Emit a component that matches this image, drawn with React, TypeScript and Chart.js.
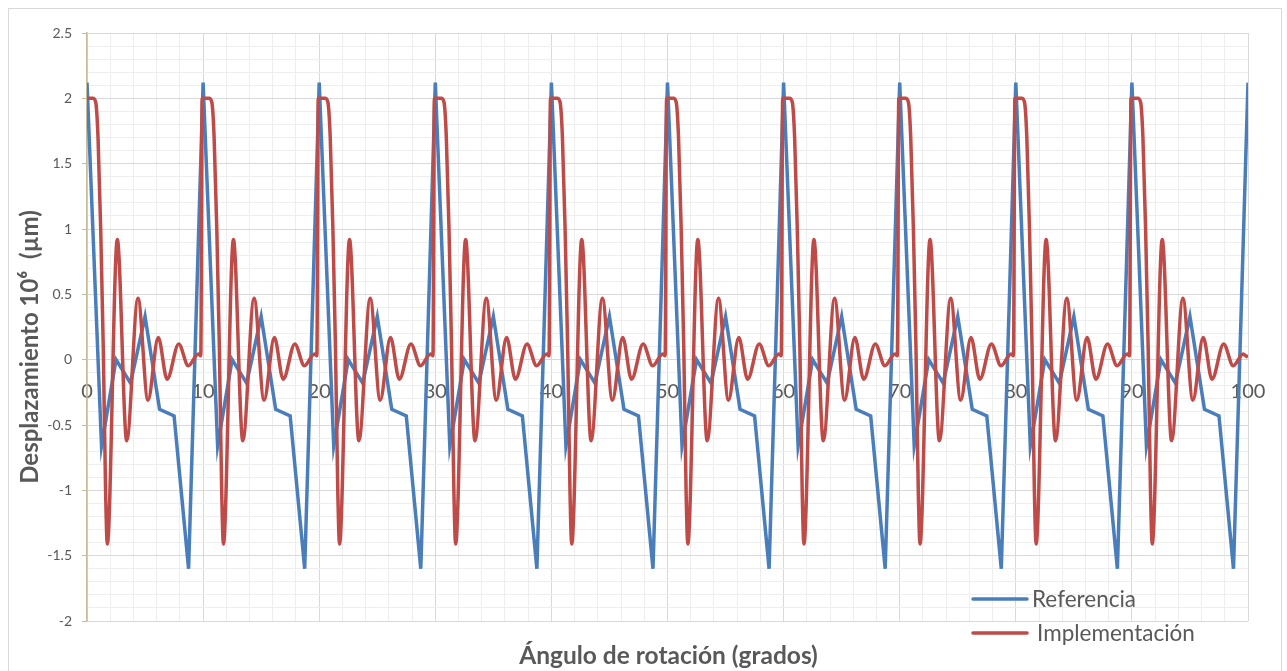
import React, { useEffect, useRef } from 'react';
import { Chart, registerables } from 'chart.js';

Chart.register(...registerables);

// ---- Data ----
const X_MIN = 0;
const X_MAX = 100;
const Y_MIN = -2;
const Y_MAX = 2.5;
const PERIOD = 10;
const PERIOD_STARTS = [0, 10, 20, 30, 40, 50, 60, 70, 80, 90];

// "Referencia": one period, sampled every 1.25 degrees (piecewise linear)
const refOffsets = [0, 1.25, 2.5, 3.75, 5, 6.25, 7.5, 8.75];
const refValues = [2.12, -0.66, 0.0, -0.18, 0.33, -0.38, -0.43, -1.6];
const refEndValue = 2.12;

// "Implementación": one period (smoothed curve)
const implOffsets = [-0.08, 0, 0.5, 0.75, 0.95, 1.18, 1.4, 1.6, 1.75, 2.61, 3.42, 4.39, 5.25, 6.14, 6.9, 7.9, 8.72, 9.59, 9.8];
const implValues = [2.0, 2.0, 2.0, 1.97, 1.7, 1.0, 0.1, -1.0, -1.41, 0.92, -0.62, 0.47, -0.31, 0.17, -0.15, 0.12, -0.046, 0.044, 0.03];
const implEndValue = 0.02;

const SERIES_NAMES = ['Referencia', 'Implementación'];
const SERIES_COLORS = ['#4a7ebb', '#be4b48'];

const X_TITLE = 'Ángulo de rotación (grados)';
const Y_TITLE = 'Desplazamiento 10⁶  (µm)';

const TEXT_COLOR = '#595959';
const GRID_MAJOR = '#d9d9d9';
const GRID_MINOR = '#eeeeee';
const AXIS_TAN = '#c4bd97';
const FONT = 'Lato, "Open Sans", sans-serif';

function buildRef() {
  const pts: { x: number; y: number }[] = [];
  PERIOD_STARTS.forEach((s) => {
    refOffsets.forEach((o, i) => pts.push({ x: s + o, y: refValues[i] }));
  });
  pts.push({ x: X_MAX, y: refEndValue });
  return pts;
}

function buildImpl() {
  const pts: { x: number; y: number }[] = [];
  PERIOD_STARTS.forEach((s) => {
    implOffsets.forEach((o, i) => {
      const x = s + o;
      if (x < X_MIN) return;
      pts.push({ x, y: implValues[i] });
    });
  });
  pts.push({ x: PERIOD_STARTS[PERIOD_STARTS.length - 1] + PERIOD, y: implEndValue });
  return pts;
}

const isMajorY = (v: number) => Math.round(v * 10) % 5 === 0;
const isMajorX = (v: number) => Math.round(v) % 10 === 0;

const decorations = {
  id: 'decorations',
  afterDraw(chart: any) {
    const { ctx, chartArea } = chart;
    ctx.save();
    ctx.fillStyle = TEXT_COLOR;
    // X title
    ctx.font = `bold 24.5px ${FONT}`;
    ctx.textAlign = 'center';
    ctx.textBaseline = 'alphabetic';
    ctx.fillText(X_TITLE, (chartArea.left + chartArea.right) / 2 + 1, chartArea.bottom + 43);
    // Y title
    ctx.save();
    ctx.font = `bold 24px ${FONT}`;
    ctx.translate(21, (chartArea.top + chartArea.bottom) / 2 + 20);
    ctx.rotate(-Math.PI / 2);
    ctx.textBaseline = 'middle';
    ctx.fillText(Y_TITLE, 0, 0);
    ctx.restore();
    // Legend
    const lx = chartArea.right - 275;
    const rows = [chartArea.bottom - 22, chartArea.bottom + 12];
    const textGap = [5, 10];
    ctx.font = `22.5px ${FONT}`;
    ctx.textAlign = 'left';
    ctx.textBaseline = 'middle';
    chart.data.datasets.forEach((ds: any, i: number) => {
      const y = rows[i];
      ctx.strokeStyle = ds.borderColor;
      ctx.lineWidth = 3.5;
      ctx.lineCap = 'round';
      ctx.beginPath();
      ctx.moveTo(lx, y);
      ctx.lineTo(lx + 54, y);
      ctx.stroke();
      ctx.fillStyle = TEXT_COLOR;
      ctx.fillText(ds.label, lx + 54 + textGap[i], y + 1);
    });
    ctx.restore();
  },
};

export default function App() {
  const canvasRef = useRef<HTMLCanvasElement | null>(null);

  useEffect(() => {
    if (!canvasRef.current) return;
    const chart = new Chart(canvasRef.current, {
      type: 'line',
      data: {
        datasets: [
          {
            label: SERIES_NAMES[0],
            data: buildRef(),
            borderColor: SERIES_COLORS[0],
            backgroundColor: SERIES_COLORS[0],
            borderWidth: 3.5,
            pointRadius: 0,
            tension: 0,
            order: 1,
          },
          {
            label: SERIES_NAMES[1],
            data: buildImpl(),
            borderColor: SERIES_COLORS[1],
            backgroundColor: SERIES_COLORS[1],
            borderWidth: 3.5,
            pointRadius: 0,
            cubicInterpolationMode: 'monotone',
            order: 0,
          },
        ],
      },
      options: {
        animation: false,
        responsive: true,
        maintainAspectRatio: false,
        parsing: false,
        layout: { padding: { left: 0, top: 24, right: 33, bottom: 68 } },
        plugins: { legend: { display: false }, tooltip: { enabled: false } },
        scales: {
          x: {
            type: 'linear',
            position: { y: 0 } as any,
            min: X_MIN,
            max: X_MAX,
            ticks: {
              stepSize: 2,
              autoSkip: false,
              maxRotation: 0,
              padding: 0,
              color: TEXT_COLOR,
              font: { size: 20, family: FONT },
              callback: (v: any) => (isMajorX(Number(v)) ? String(Math.round(Number(v))) : ''),
            },
            grid: {
              drawTicks: true,
              tickLength: 20,
              tickColor: 'rgba(0,0,0,0)',
              color: (c: any) => (isMajorX(c.tick.value) ? GRID_MAJOR : GRID_MINOR),
            },
            border: { color: GRID_MAJOR },
          },
          y: {
            type: 'linear',
            min: Y_MIN,
            max: Y_MAX,
            afterFit: (s: any) => {
              s.width = 78;
            },
            ticks: {
              stepSize: 0.1,
              autoSkip: false,
              padding: 10,
              color: TEXT_COLOR,
              font: { size: 14, family: FONT },
              callback: (v: any) => (isMajorY(Number(v)) ? String(Math.round(Number(v) * 10) / 10) : ''),
            },
            grid: {
              tickLength: 5,
              color: (c: any) => (isMajorY(c.tick.value) ? GRID_MAJOR : GRID_MINOR),
              tickColor: (c: any) => (isMajorY(c.tick.value) ? AXIS_TAN : 'rgba(0,0,0,0)'),
            },
            border: { color: AXIS_TAN, width: 1.5 },
          },
        },
      },
      plugins: [decorations],
    } as any);
    return () => chart.destroy();
  }, []);

  return (
    <div
      style={{
        position: 'fixed',
        left: 8,
        top: 8,
        width: 1272,
        height: 700,
        border: '1px solid #d9d9d9',
        background: '#fff',
      }}
    >
      <div style={{ position: 'relative', width: 1272, height: 680 }}>
        <canvas ref={canvasRef} />
      </div>
    </div>
  );
}
